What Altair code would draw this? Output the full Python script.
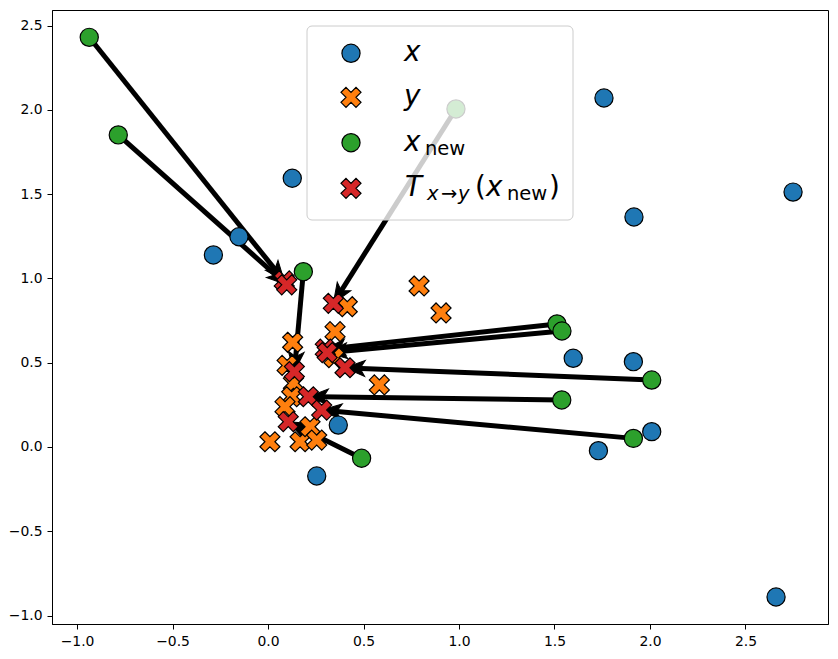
import math

import altair as alt
import pandas as pd

# Source samples x
x_px = [-0.286, -0.152, 0.127, 1.759, 2.749, 1.916, 1.598, 1.913, 2.009, 1.730, 0.368, 0.255, 2.660]
x_py = [1.139, 1.247, 1.594, 2.070, 1.512, 1.364, 0.526, 0.506, 0.091, -0.022, 0.130, -0.172, -0.890]

# Target samples y
y_px = [0.791, 0.906, 0.415, 0.351, 0.583, 0.129, 0.345, 0.100, 0.133, 0.124, 0.089, 0.010, 0.168, 0.220, 0.255]
y_py = [0.955, 0.795, 0.832, 0.684, 0.368, 0.621, 0.530, 0.484, 0.378, 0.298, 0.239, 0.031, 0.031, 0.120, 0.041]

# New points x_new and their images T(x_new)
new_px = [-0.936, -0.784, 0.185, 0.984, 1.513, 1.539, 2.009, 1.538, 1.913, 0.490]
new_py = [2.430, 1.851, 1.040, 2.005, 0.730, 0.688, 0.397, 0.279, 0.051, -0.067]
map_px = [0.085, 0.098, 0.138, 0.342, 0.300, 0.310, 0.403, 0.211, 0.281, 0.106]
map_py = [0.985, 0.962, 0.447, 0.852, 0.580, 0.560, 0.470, 0.298, 0.219, 0.150]

X_DOMAIN = [-1.131, 2.932]
Y_DOMAIN = [-1.05, 2.592]
TICKS = [-1.0, -0.5, 0.0, 0.5, 1.0, 1.5, 2.0, 2.5]
W, H = 776, 614

BLUE, ORANGE, GREEN, RED = "#1f77b4", "#ff7f0e", "#2ca02c", "#d62728"
X_SHAPE = ("M-0.5,-1L0,-0.5L0.5,-1L1,-0.5L0.5,0L1,0.5L0.5,1L0,0.5"
           "L-0.5,1L-1,0.5L-0.5,0L-1,-0.5Z")
HEAD_SHAPE = "M0,0L0.8,2L0,1.5L-0.8,2Z"
FONT = "DejaVu Sans"
CIRCLE_SIZE, X_SIZE = 330, 400

xs = alt.Scale(domain=X_DOMAIN, nice=False, zero=False)
ys = alt.Scale(domain=Y_DOMAIN, nice=False, zero=False)
x_axis = alt.Axis(values=TICKS, format=".1f", title=None, grid=False)
y_axis = alt.Axis(values=TICKS, format=".1f", title=None, grid=False)

kx = W / (X_DOMAIN[1] - X_DOMAIN[0])
ky = H / (Y_DOMAIN[1] - Y_DOMAIN[0])

# Arrow geometry: the shaft stops a little short of the tip, the head is rotated
rows = []
for x0, y0, x1, y1 in zip(new_px, new_py, map_px, map_py):
    dx, dy = x1 - x0, y1 - y0
    length = math.hypot(dx * kx, dy * ky)
    t = 10.0 / length
    rows.append({
        "x0": x0, "y0": y0, "x1": x1, "y1": y1,
        "xs": x1 - dx * t, "ys": y1 - dy * t,
        "angle": math.degrees(math.atan2(dx * kx, dy * ky)) % 360,
    })
arrows = pd.DataFrame(rows)

pts_x = pd.DataFrame({"a": x_px, "b": x_py})
pts_y = pd.DataFrame({"a": y_px, "b": y_py})
pts_new = pd.DataFrame({"a": new_px, "b": new_py})
pts_map = pd.DataFrame({"a": map_px, "b": map_py})

shafts = alt.Chart(arrows).mark_rule(color="black", strokeWidth=5, strokeCap="butt").encode(
    x=alt.X("x0:Q", scale=xs, axis=x_axis),
    y=alt.Y("y0:Q", scale=ys, axis=y_axis),
    x2="xs:Q",
    y2="ys:Q",
)
heads = alt.Chart(arrows).mark_point(
    shape=HEAD_SHAPE, size=400, filled=True, fill="black", stroke="black",
    strokeWidth=1, opacity=1,
).encode(
    x=alt.X("x1:Q", scale=xs),
    y=alt.Y("y1:Q", scale=ys),
    angle=alt.Angle("angle:Q", scale=None),
)


def scatter(df, color, shape, size):
    return alt.Chart(df).mark_point(
        shape=shape, size=size, filled=True, fill=color, stroke="black",
        strokeWidth=1.2, opacity=1,
    ).encode(x=alt.X("a:Q", scale=xs), y=alt.Y("b:Q", scale=ys))


one = alt.Data(values=[{}])

# Legend frame, drawn over the data like a semi-transparent box
frame = alt.Chart(one).mark_rect(
    fill="white", fillOpacity=0.8, stroke="#cccccc", strokeWidth=1, cornerRadius=5,
).encode(x=alt.value(255), x2=alt.value(521), y=alt.value(16), y2=alt.value(210))

ROW_Y = [43.3, 87.3, 132.7, 178.3]
legend_markers = []
for ry, color, shape, size in zip(
    ROW_Y, [BLUE, ORANGE, GREEN, RED],
    ["circle", X_SHAPE, "circle", X_SHAPE], [CIRCLE_SIZE, X_SIZE, CIRCLE_SIZE, X_SIZE],
):
    legend_markers.append(
        alt.Chart(one).mark_point(
            shape=shape, size=size, filled=True, fill=color, stroke="black",
            strokeWidth=1.2, opacity=1,
        ).encode(x=alt.value(299), y=alt.value(ry))
    )

BIG, SMALL = 27.8, 19.5
pieces = [
    # (text, x, baseline, size, italic)
    ("x", 352, ROW_Y[0] + 8, BIG, True),
    ("y", 352, ROW_Y[1] + 8, BIG, True),
    ("x", 352, ROW_Y[2] + 8, BIG, True),
    ("new", 373, ROW_Y[2] + 12, SMALL, False),
    ("T", 353, ROW_Y[3] + 8, BIG, True),
    ("x", 375, ROW_Y[3] + 12, SMALL, True),
    ("\u2192", 389, ROW_Y[3] + 12, SMALL, False),
    ("y", 406, ROW_Y[3] + 12, SMALL, True),
    ("(", 423, ROW_Y[3] + 8, BIG, False),
    ("x", 434, ROW_Y[3] + 8, BIG, True),
    ("new", 455, ROW_Y[3] + 12, SMALL, False),
    (")", 497, ROW_Y[3] + 8, BIG, False),
]
legend_text = []
for txt, tx, ty, fs, italic in pieces:
    legend_text.append(
        alt.Chart(one).mark_text(
            text=txt, font=FONT, fontSize=fs, align="left", baseline="alphabetic",
            fontStyle="italic" if italic else "normal", color="black",
        ).encode(x=alt.value(tx), y=alt.value(ty))
    )

chart = alt.layer(
    shafts,
    heads,
    scatter(pts_x, BLUE, "circle", CIRCLE_SIZE),
    scatter(pts_y, ORANGE, X_SHAPE, X_SIZE),
    scatter(pts_new, GREEN, "circle", CIRCLE_SIZE),
    scatter(pts_map, RED, X_SHAPE, X_SIZE),
    frame,
    *legend_markers,
    *legend_text,
).properties(
    width=W, height=H,
    autosize=alt.AutoSizeParams(type="none"),
    padding={"left": 52, "top": 10, "right": 10, "bottom": 35},
).configure_view(
    stroke="black", strokeWidth=1,
).configure_axis(
    domainColor="black", tickColor="black", tickSize=5, labelColor="black",
    labelFont=FONT, labelFontSize=13.9, labelPadding=5,
)

chart.save("out.html", embed_options={"renderer": "svg", "actions": False})
